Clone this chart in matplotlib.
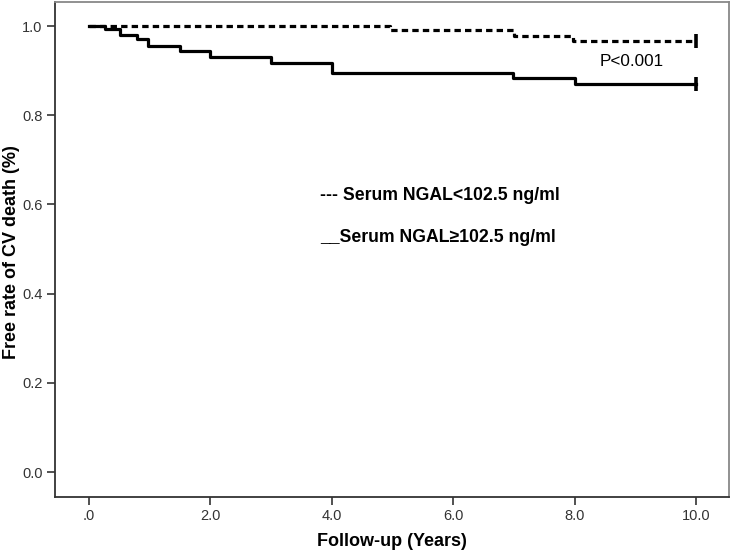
import matplotlib
matplotlib.use("Agg")
import matplotlib.pyplot as plt

plt.rcParams['font.family'] = ['Liberation Sans', 'DejaVu Sans']

# Kaplan-Meier step data (time in years, survival fraction)
low_times = [0.0, 4.96, 7.0, 7.97, 10.0]
low_surv = [1.0, 0.991, 0.977, 0.966, 0.966]

high_times = [0.0, 0.26, 0.51, 0.79, 0.97, 1.5, 2.0, 2.99, 4.0, 6.99, 8.0, 10.0]
high_surv = [1.0, 0.993, 0.981, 0.970, 0.955, 0.944, 0.931, 0.918, 0.895, 0.884, 0.871, 0.871]

x_ticks = [0, 2, 4, 6, 8, 10]
x_tick_labels = ['.0', '2.0', '4.0', '6.0', '8.0', '10.0']
y_ticks = [0.0, 0.2, 0.4, 0.6, 0.8, 1.0]
y_tick_labels = ['0.0', '0.2', '0.4', '0.6', '0.8', '1.0']

legend_low = '--- Serum NGAL<102.5 ng/ml'
legend_high = '__Serum NGAL\u2265102.5 ng/ml'
p_text = 'P<0.001'

W, H = 735, 554
fig = plt.figure(figsize=(W / 100, H / 100), dpi=100)
ax = fig.add_axes([55 / W, 1 - 497 / H, (729 - 55) / W, (497 - 2) / H])

ax.step(low_times, low_surv, where='post', color='black', lw=2.3,
        linestyle=(0, (2.0, 1.3)), dash_capstyle='butt')
ax.step(high_times, high_surv, where='post', color='black', lw=2.3)
# censor marks at end
ax.plot([low_times[-1]], [low_surv[-1]], marker='|', color='black', ms=9.5, mew=2.6)
ax.plot([high_times[-1]], [high_surv[-1]], marker='|', color='black', ms=9.5, mew=2.6)

ax.set_xlim(-0.56, 10.54)
ax.set_ylim(-0.056, 1.054)
ax.set_xticks(x_ticks)
ax.set_xticklabels(x_tick_labels)
ax.set_yticks(y_ticks)
ax.set_yticklabels(y_tick_labels)
ax.tick_params(axis='both', labelsize=10.5, colors='#333333', length=6, width=1.2,
               direction='out', pad=3)

for s in ['left', 'bottom']:
    ax.spines[s].set_color('#333333')
    ax.spines[s].set_linewidth(1.3)
for s in ['top', 'right']:
    ax.spines[s].set_color('#888888')
    ax.spines[s].set_linewidth(1.3)

fig.text(392 / W, 1 - 542 / H, 'Follow-up (Years)', fontsize=13, fontweight='bold',
         ha='center', va='center')
fig.text(12 / W, 1 - 252 / H, 'Free rate of CV death (%)', fontsize=13, fontweight='bold',
         ha='center', va='center', rotation=90)

fig.text(320 / W, 1 - 195 / H, legend_low, fontsize=12.7, fontweight='bold',
         va='center', ha='left')
fig.text(320 / W, 1 - 238 / H, legend_high, fontsize=12.7, fontweight='bold',
         va='center', ha='left')
fig.text(632 / W, 1 - 62 / H, p_text, fontsize=12.3, va='center', ha='center')

fig.savefig('out.png', dpi=100)
